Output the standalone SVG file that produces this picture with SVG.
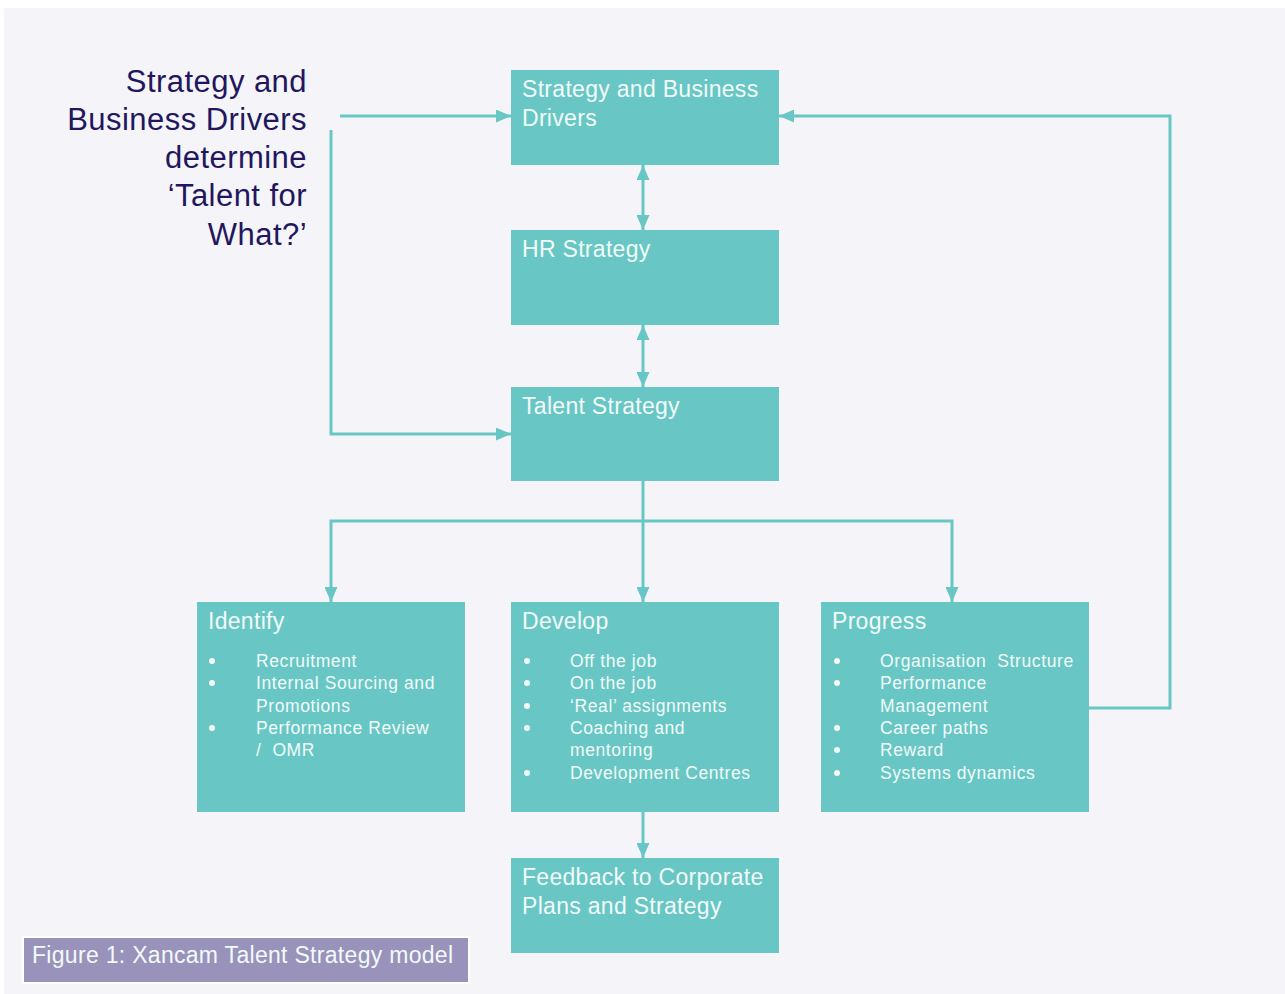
<svg xmlns="http://www.w3.org/2000/svg" width="1285" height="994" viewBox="0 0 1285 994">
<defs>
<marker id="ah" viewBox="0 0 15 13" refX="15" refY="6.5" markerWidth="15" markerHeight="13" markerUnits="userSpaceOnUse" orient="auto-start-reverse">
<path d="M0,0 L15,6.5 L0,13 Z" fill="#68c7c4"/>
</marker>
</defs>
<style>
.box{fill:#68c7c4;}
.t{font-family:"Liberation Sans",Arial,sans-serif;fill:#f2fafa;font-size:23px;letter-spacing:0.3px;}
.b{font-family:"Liberation Sans",Arial,sans-serif;fill:#f2fafa;font-size:17.5px;letter-spacing:0.6px;white-space:pre;}
.d{fill:#f2fafa;}
.l{font-family:"Liberation Sans",Arial,sans-serif;fill:#22175e;font-size:31px;text-anchor:end;letter-spacing:0.45px;}
.c{fill:none;stroke:#68c7c4;stroke-width:3;}
</style>
<rect x="0" y="0" width="1285" height="994" fill="#ffffff"/>
<rect x="4" y="8" width="1281" height="986" fill="#f5f5f9"/>

<g id="left-label">
<text class="l" x="307" y="92">Strategy and</text>
<text class="l" x="307" y="130">Business Drivers</text>
<text class="l" x="307" y="168">determine</text>
<text class="l" x="307" y="206">‘Talent for</text>
<text class="l" x="307" y="245">What?’</text>
</g>

<g id="connectors">
<path class="c" d="M340,116 H511" marker-end="url(#ah)"/>
<path class="c" d="M331,130 V434 H511" marker-end="url(#ah)"/>
<path class="c" d="M643,165 V230" marker-start="url(#ah)" marker-end="url(#ah)"/>
<path class="c" d="M643,325 V387" marker-start="url(#ah)" marker-end="url(#ah)"/>
<path class="c" d="M643,481 V602" marker-end="url(#ah)"/>
<path class="c" d="M331,602 V521 H952 V602" marker-start="url(#ah)" marker-end="url(#ah)"/>
<path class="c" d="M643,812 V858" marker-end="url(#ah)"/>
<path class="c" d="M1089,708 H1170 V116 H779" marker-end="url(#ah)"/>
</g>

<g id="sbd">
<rect class="box" x="511" y="70" width="268" height="95"/>
<text class="t" x="522" y="97">Strategy and Business</text>
<text class="t" x="522" y="126">Drivers</text>
</g>

<g id="hr">
<rect class="box" x="511" y="230" width="268" height="95"/>
<text class="t" x="522" y="257">HR Strategy</text>
</g>

<g id="talent">
<rect class="box" x="511" y="387" width="268" height="94"/>
<text class="t" x="522" y="414">Talent Strategy</text>
</g>

<g id="identify">
<rect class="box" x="197" y="602" width="268" height="210"/>
<text class="t" x="208" y="629">Identify</text>
<circle class="d" cx="212" cy="661" r="3"/><text class="b" x="256" y="667">Recruitment</text>
<circle class="d" cx="212" cy="683" r="3"/><text class="b" x="256" y="689">Internal Sourcing and</text>
<text class="b" x="256" y="712">Promotions</text>
<circle class="d" cx="212" cy="728" r="3"/><text class="b" x="256" y="734">Performance Review</text>
<text class="b" x="256" y="756" xml:space="preserve">/  OMR</text>
</g>

<g id="develop">
<rect class="box" x="511" y="602" width="268" height="210"/>
<text class="t" x="522" y="629">Develop</text>
<circle class="d" cx="527" cy="661" r="3"/><text class="b" x="570" y="667">Off the job</text>
<circle class="d" cx="527" cy="683" r="3"/><text class="b" x="570" y="689">On the job</text>
<circle class="d" cx="527" cy="706" r="3"/><text class="b" x="570" y="712">‘Real’ assignments</text>
<circle class="d" cx="527" cy="728" r="3"/><text class="b" x="570" y="734">Coaching and</text>
<text class="b" x="570" y="756">mentoring</text>
<circle class="d" cx="527" cy="773" r="3"/><text class="b" x="570" y="779">Development Centres</text>
</g>

<g id="progress">
<rect class="box" x="821" y="602" width="268" height="210"/>
<text class="t" x="832" y="629">Progress</text>
<circle class="d" cx="837" cy="661" r="3"/><text class="b" x="880" y="667" xml:space="preserve">Organisation  Structure</text>
<circle class="d" cx="837" cy="683" r="3"/><text class="b" x="880" y="689">Performance</text>
<text class="b" x="880" y="712">Management</text>
<circle class="d" cx="837" cy="728" r="3"/><text class="b" x="880" y="734">Career paths</text>
<circle class="d" cx="837" cy="750" r="3"/><text class="b" x="880" y="756">Reward</text>
<circle class="d" cx="837" cy="773" r="3"/><text class="b" x="880" y="779">Systems dynamics</text>
</g>

<g id="feedback">
<rect class="box" x="511" y="858" width="268" height="95"/>
<text class="t" x="522" y="885">Feedback to Corporate</text>
<text class="t" x="522" y="914">Plans and Strategy</text>
</g>

<g id="caption">
<rect x="23" y="937" width="446" height="46" fill="#9993bb" stroke="#ffffff" stroke-width="2"/>
<text class="t" x="32" y="963">Figure 1: Xancam Talent Strategy model</text>
</g>
</svg>
